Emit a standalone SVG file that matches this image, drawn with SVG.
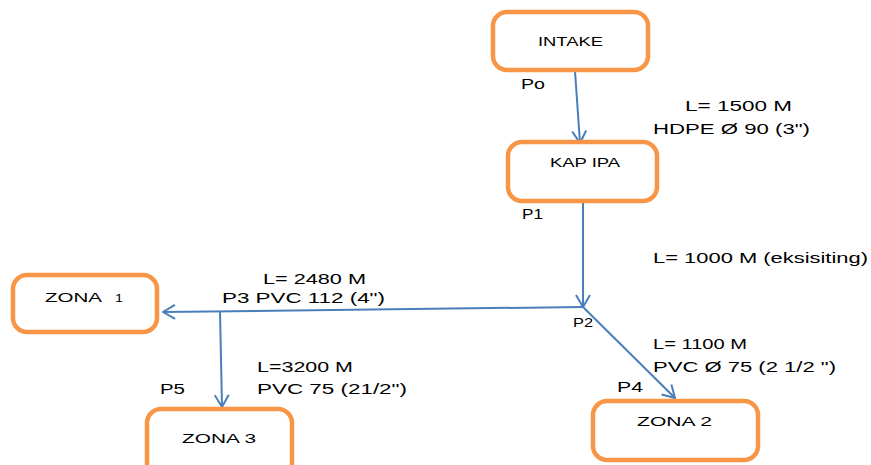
<svg xmlns="http://www.w3.org/2000/svg" width="871" height="465" viewBox="0 0 871 465">
<style>
.box{fill:#fff;stroke:#F79646;stroke-width:4.5}
.t{font-family:"Liberation Sans",Arial,sans-serif;fill:#000}
.bt{font-size:13.5px}
.lb{font-size:15px}
.c{fill:none;stroke:#4A7EBB;stroke-width:2;marker-end:url(#ar)}
</style>
<defs>
<marker id="ar" viewBox="0 0 14 16" refX="13" refY="8" markerWidth="14" markerHeight="16" markerUnits="userSpaceOnUse" orient="auto">
<path d="M1,1 L13,8 L1,15" fill="none" stroke="#4A7EBB" stroke-width="2"/>
</marker>
</defs>
<rect width="871" height="465" fill="#fff"/>
<g id="connectors">
<path class="c" d="M575,71 L580,143"/>
<path class="c" d="M583,202 L583,307"/>
<path class="c" d="M583,307 L163,312"/>
<path class="c" d="M220,311 L222,407"/>
<path class="c" d="M583,307 L675,398"/>
</g>
<g id="intake">
<rect class="box" x="493" y="12" width="155" height="58" rx="14"/>
<text class="t bt" x="538" y="46" textLength="65" lengthAdjust="spacingAndGlyphs">INTAKE</text>
</g>
<g id="kapipa">
<rect class="box" x="508" y="142" width="149" height="59" rx="14"/>
<text class="t bt" x="550" y="167" textLength="70" lengthAdjust="spacingAndGlyphs">KAP IPA</text>
</g>
<g id="zona1">
<rect class="box" x="13" y="275" width="144" height="57" rx="14"/>
<text class="t bt" x="45" y="302" textLength="57" lengthAdjust="spacingAndGlyphs">ZONA</text>
<text class="t" x="115" y="302" font-size="10" textLength="8" lengthAdjust="spacingAndGlyphs">1</text>
</g>
<g id="zona3">
<rect class="box" x="147" y="409" width="145" height="70" rx="14"/>
<text class="t bt" x="182" y="443" textLength="74" lengthAdjust="spacingAndGlyphs">ZONA 3</text>
</g>
<g id="zona2">
<rect class="box" x="593" y="401" width="165" height="59" rx="14"/>
<text class="t bt" x="637" y="426" textLength="75" lengthAdjust="spacingAndGlyphs">ZONA 2</text>
</g>
<g id="labels">
<text class="t lb" x="521" y="89" textLength="24" lengthAdjust="spacingAndGlyphs">Po</text>
<text class="t lb" x="685" y="111" textLength="107" lengthAdjust="spacingAndGlyphs">L= 1500 M</text>
<text class="t lb" x="653" y="134" textLength="157" lengthAdjust="spacingAndGlyphs">HDPE Ø 90 (3")</text>
<text class="t lb" x="522" y="219" textLength="21" lengthAdjust="spacingAndGlyphs">P1</text>
<text class="t lb" x="653" y="263" textLength="215" lengthAdjust="spacingAndGlyphs">L= 1000 M (eksisiting)</text>
<text class="t lb" x="263" y="284" textLength="103" lengthAdjust="spacingAndGlyphs">L= 2480 M</text>
<text class="t lb" x="222" y="303" textLength="163" lengthAdjust="spacingAndGlyphs">P3  PVC 112 (4")</text>
<text class="t" x="573" y="327" font-size="12" textLength="20" lengthAdjust="spacingAndGlyphs">P2</text>
<text class="t lb" x="653" y="349" textLength="94" lengthAdjust="spacingAndGlyphs">L= 1100 M</text>
<text class="t lb" x="653" y="372" textLength="183" lengthAdjust="spacingAndGlyphs">PVC Ø 75 (2 1/2 ")</text>
<text class="t lb" x="257" y="372" textLength="96" lengthAdjust="spacingAndGlyphs">L=3200 M</text>
<text class="t lb" x="257" y="394" textLength="150" lengthAdjust="spacingAndGlyphs">PVC 75 (21/2")</text>
<text class="t lb" x="160" y="394" textLength="25" lengthAdjust="spacingAndGlyphs">P5</text>
<text class="t lb" x="617" y="392" textLength="26" lengthAdjust="spacingAndGlyphs">P4</text>
</g>
</svg>
